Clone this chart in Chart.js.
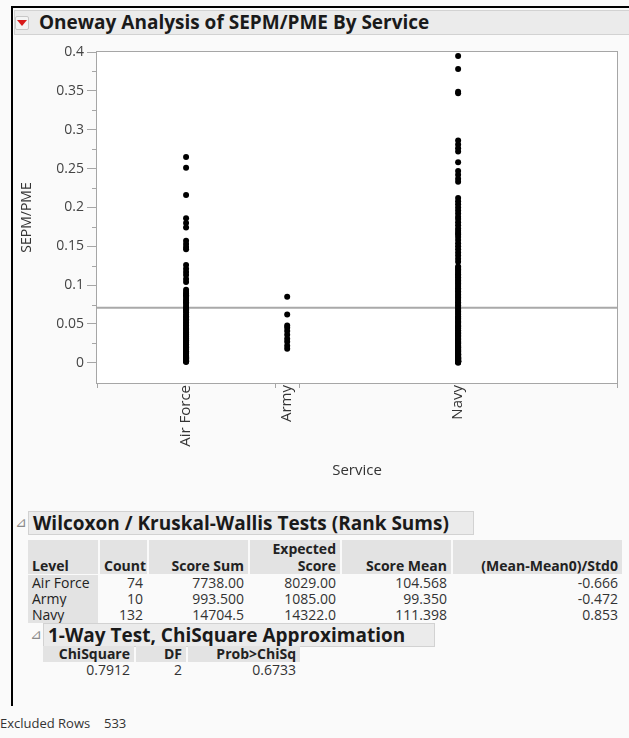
<!DOCTYPE html>
<html>
<head>
<meta charset="utf-8">
<title>Oneway Analysis of SEPM/PME By Service</title>
<script src="https://cdn.jsdelivr.net/npm/chart.js@4.4.1/dist/chart.umd.min.js"></script>
<style>
  body { margin:0; width:629px; height:738px; background:#fafafa; position:relative; overflow:hidden; font-family:"Open Sans", sans-serif; color:#333; }
  .abs { position:absolute; white-space:nowrap; }
  #frameTop { left:11px; top:6px; width:618px; height:2px; background:#000; }
  #frameLeft { left:11px; top:6px; width:2px; height:700px; background:#000; }
  .outline { background:#ebebeb; border:1px solid #d2d2d2; font-weight:bold; color:#1a1a1a; font-size:19px; line-height:22px; box-sizing:border-box; }
  .disc { color:#8a8a8a; font-family:"DejaVu Sans", sans-serif; font-size:14px; }
  .cell { font-size:14px; line-height:16px; box-sizing:border-box; padding:0 4px; }
  .hd { background:#e3e3e3; font-weight:bold; color:#222; }
  #chartBox { left:0; top:40px; width:629px; height:440px; }
  #redBtn { left:15px; top:16px; width:12px; height:12px; background:#f4f4f4; border:1px solid #c8c8c8; border-radius:2px; }
  #redBtn span { position:absolute; left:1px; top:3px; width:0; height:0; border-left:5px solid transparent; border-right:5px solid transparent; border-top:6px solid #d81b1b; }
</style>
</head>
<body>
<div class="abs" id="frameTop"></div>
<div class="abs" id="frameLeft"></div>
<div class="abs outline" style="left:14px; top:10px; width:620px; height:25px; padding-left:24px; line-height:23px;">Oneway Analysis of SEPM/PME By Service</div>
<div class="abs" id="redBtn"><span></span></div>
<div class="abs" id="chartBox"><canvas id="chart"></canvas></div>

<script>
// data
var categories = ['Air Force', 'Army', 'Navy'];
var counts = [74, 10, 132];

var airForce = [0.265, 0.251, 0.216, 0.186, 0.180, 0.174, 0.157, 0.153, 0.149, 0.146,
  0.126, 0.121, 0.117, 0.113, 0.108, 0.104,
  0.094, 0.091, 0.089, 0.087, 0.085, 0.082, 0.080, 0.078, 0.076, 0.073,
  0.071, 0.069, 0.067, 0.065, 0.062, 0.060, 0.058, 0.056, 0.054, 0.052,
  0.050, 0.048, 0.046, 0.044, 0.043, 0.041, 0.039, 0.037, 0.036, 0.034,
  0.032, 0.031, 0.029, 0.027, 0.026, 0.024, 0.023, 0.021, 0.020, 0.018,
  0.017, 0.015, 0.014, 0.013, 0.012, 0.010, 0.009, 0.008, 0.007, 0.006,
  0.005, 0.005, 0.004, 0.003, 0.003, 0.002, 0.002, 0.001];

var army = [0.085, 0.062, 0.048, 0.045, 0.041, 0.036, 0.031, 0.027, 0.022, 0.018];

var navy = [0.395, 0.378, 0.349, 0.347, 0.286, 0.281, 0.276, 0.272, 0.258, 0.247, 0.242, 0.237, 0.233,
  0.212, 0.208, 0.204, 0.200, 0.196, 0.192, 0.188, 0.185, 0.181, 0.177, 0.173, 0.170, 0.167, 0.165,
  0.162, 0.158, 0.154, 0.150, 0.146, 0.142, 0.138, 0.134, 0.130,
  0.124, 0.122, 0.120, 0.118, 0.116, 0.114, 0.112, 0.110, 0.108, 0.106,
  0.104, 0.102, 0.100, 0.098, 0.096, 0.094, 0.092, 0.090, 0.088, 0.086,
  0.084, 0.082, 0.080, 0.078, 0.076, 0.074, 0.072, 0.070, 0.068, 0.066,
  0.064, 0.062, 0.060, 0.058, 0.057, 0.055, 0.053, 0.052, 0.050, 0.048,
  0.047, 0.045, 0.044, 0.042, 0.041, 0.039, 0.038, 0.036, 0.035, 0.034,
  0.032, 0.031, 0.030, 0.028, 0.027, 0.026, 0.025, 0.023, 0.022, 0.021,
  0.020, 0.019, 0.018, 0.017, 0.016, 0.015, 0.014, 0.013, 0.012, 0.011,
  0.011, 0.010, 0.009, 0.009, 0.008, 0.007, 0.007, 0.006, 0.006, 0.005,
  0.005, 0.004, 0.004, 0.004, 0.003, 0.003, 0.003, 0.002, 0.002, 0.002,
  0.002, 0.001, 0.001, 0.001, 0.001, 0.000];

var grandMean = 0.0707;
var yTicks = [0, 0.05, 0.1, 0.15, 0.2, 0.25, 0.3, 0.35, 0.4];
var yMinorTicks = [0.025, 0.075, 0.125, 0.175, 0.225, 0.275, 0.325, 0.375];

// Wilcoxon table
var tblHeads = ['Level', 'Count', 'Score Sum', 'Score', 'Score Mean', '(Mean-Mean0)/Std0'];
var scoreSum = ['7738.00', '993.500', '14704.5'];
var expScore = ['8029.00', '1085.00', '14322.0'];
var scoreMean = ['104.568', '99.350', '111.398'];
var stdDiff = ['-0.666', '-0.472', '0.853'];

// chi square
var chiHeads = ['ChiSquare', 'DF', 'Prob>ChiSq'];
var chiVals = ['0.7912', '2', '0.6733'];
var excludedRows = 533;

// x positions: JMP gives each level a width proportional to its count
var total = counts.reduce((a, b) => a + b);
var bounds = [0];
var centers = [];
counts.forEach((c, i) => {
  centers.push(bounds[i] + c / 2);
  bounds.push(bounds[i] + c);
});
var series = [airForce, army, navy];

var frame = {
  id: 'frame',
  beforeDatasetsDraw(chart) {
    var a = chart.chartArea, ctx = chart.ctx;
    ctx.save();
    ctx.fillStyle = '#fff';
    ctx.fillRect(a.left, a.top, a.right - a.left, a.bottom - a.top);
    ctx.restore();
  },
  afterDraw(chart) {
    var a = chart.chartArea, ctx = chart.ctx;
    var x = chart.scales.x, y = chart.scales.y;
    ctx.save();
    ctx.strokeStyle = '#a6a6a6';
    ctx.lineWidth = 1;
    ctx.strokeRect(a.left - 0.5, a.top - 0.5, a.right - a.left + 1, a.bottom - a.top + 1);
    ctx.beginPath();
    yMinorTicks.forEach(v => {
      var py = Math.round(y.getPixelForValue(v)) + 0.5;
      ctx.moveTo(a.left - 5, py); ctx.lineTo(a.left, py);
    });
    bounds.forEach(v => {
      var px = Math.round(x.getPixelForValue(v)) + 0.5;
      ctx.moveTo(px, a.bottom); ctx.lineTo(px, a.bottom + 5);
    });
    ctx.stroke();
    ctx.restore();
  }
};

var datasets = [{
  type: 'line',
  data: [{x: 0, y: grandMean}, {x: total, y: grandMean}],
  borderColor: '#a9a9a9',
  borderWidth: 2,
  pointRadius: 0,
  order: 2
}];
categories.forEach((c, i) => {
  datasets.push({
    label: c,
    data: series[i].map(v => ({x: centers[i], y: v})),
    backgroundColor: '#000',
    borderWidth: 0,
    pointRadius: 3,
    pointHoverRadius: 3,
    clip: false,
    order: 1
  });
});

var ctx = document.getElementById('chart').getContext('2d');
var mychart = new Chart(ctx, {
  type: 'scatter',
  data: {datasets: datasets},
  plugins: [frame],
  options: {
    responsive: true,
    maintainAspectRatio: false,
    animation: false,
    events: [],
    layout: {padding: {top: 12, right: 12, left: 0, bottom: 0}, autoPadding: false},
    plugins: {legend: {display: false}, tooltip: {enabled: false}},
    scales: {
      x: {
        type: 'linear',
        min: 0,
        max: total,
        afterBuildTicks: s => { s.ticks = centers.map(v => ({value: v})); },
        afterFit: s => { s.height = 97; },
        ticks: {
          autoSkip: false,
          minRotation: 90,
          maxRotation: 90,
          padding: 2,
          color: '#333',
          font: {family: 'Open Sans', size: 15},
          callback: (v, i) => categories[i]
        },
        grid: {display: false, drawTicks: false},
        border: {display: false},
        title: {display: true, text: 'Service', color: '#333', font: {family: 'Open Sans', size: 15}, padding: {top: 4, bottom: 0}}
      },
      y: {
        min: -0.026,
        max: 0.4,
        afterBuildTicks: s => { s.ticks = yTicks.map(v => ({value: v})); },
        afterFit: s => { s.width = 97; },
        ticks: {
          padding: 3,
          color: '#444',
          font: {family: 'Open Sans', size: 14},
          callback: v => String(v)
        },
        grid: {drawOnChartArea: false, drawTicks: true, tickLength: 10, color: '#a6a6a6'},
        border: {display: false},
        title: {display: true, text: 'SEPM/PME', color: '#333', font: {family: 'Open Sans', size: 14}, padding: {top: 19, bottom: 0}}
      }
    }
  }
});

// report tables below the plot
function put(text, x, y, w, align, cls) {
  var d = document.createElement('div');
  d.className = 'abs cell ' + (cls || '');
  d.textContent = text;
  d.style.left = x + 'px';
  d.style.top = y + 'px';
  d.style.width = w + 'px';
  d.style.textAlign = align;
  document.body.appendChild(d);
  return d;
}
function outline(text, x, y, w) {
  var t = document.createElement('div');
  t.className = 'abs disc';
  t.textContent = '\u22BF';
  t.style.left = (x - 13) + 'px';
  t.style.top = (y + 3) + 'px';
  document.body.appendChild(t);
  var d = document.createElement('div');
  d.className = 'abs outline';
  d.textContent = text;
  d.style.left = x + 'px';
  d.style.top = y + 'px';
  d.style.width = w + 'px';
  d.style.height = '24px';
  d.style.paddingLeft = '4px';
  document.body.appendChild(d);
}

outline('Wilcoxon / Kruskal-Wallis Tests (Rank Sums)', 28, 511, 446);

var cols = [[28, 98], [100, 147], [149, 248], [250, 340], [342, 451], [453, 622]];
var hTop = 540, rowTop = 575, rowH = 16;
cols.forEach((c, j) => {
  var cell = put('', c[0], hTop, c[1] - c[0], 'left', 'hd');
  cell.style.height = (rowTop - hTop - 1) + 'px';
  put(tblHeads[j], c[0], hTop + 18, c[1] - c[0], j ? 'right' : 'left', 'hd').style.background = 'transparent';
});
put('Expected', cols[3][0], hTop + 1, cols[3][1] - cols[3][0], 'right', 'hd').style.background = 'transparent';
categories.forEach((c, i) => {
  var y = rowTop + i * rowH;
  put(c, cols[0][0], y, cols[0][1] - cols[0][0], 'left', 'hd').style.fontWeight = 'normal';
  put(String(counts[i]), cols[1][0], y, cols[1][1] - cols[1][0], 'right');
  put(scoreSum[i], cols[2][0], y, cols[2][1] - cols[2][0], 'right');
  put(expScore[i], cols[3][0], y, cols[3][1] - cols[3][0], 'right');
  put(scoreMean[i], cols[4][0], y, cols[4][1] - cols[4][0], 'right');
  put(stdDiff[i], cols[5][0], y, cols[5][1] - cols[5][0], 'right');
});

outline('1-Way Test, ChiSquare Approximation', 43, 623, 392);
var chiCols = [[43, 134], [136, 186], [188, 300]];
chiCols.forEach((c, j) => {
  put(chiHeads[j], c[0], 646, c[1] - c[0], 'right', 'hd');
  put(chiVals[j], c[0], 662, c[1] - c[0], 'right');
});

var ex = put('Excluded Rows', -4, 715, 100, 'left');
ex.style.fontSize = '13px';
var exn = put(String(excludedRows), 100, 715, 40, 'left');
exn.style.fontSize = '13px';
</script>
</body>
</html>
